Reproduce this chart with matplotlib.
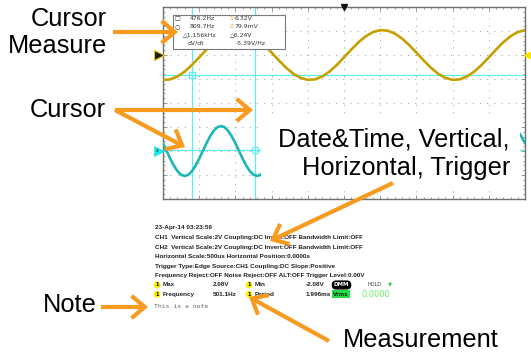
import numpy as np
import matplotlib
matplotlib.use('Agg')
import matplotlib.pyplot as plt
from matplotlib.patches import Rectangle

# ---------------- data ----------------
# time axis of the scope: 10 divisions of 500 us -> -2.5 ms .. 2.5 ms
t_ch1 = np.linspace(-2.5, 2.5, 51)           # ms, 0.1 ms steps
ch1_volts = [-2.07, -2.03, -1.79, -1.38, -0.83, -0.20, 0.45, 1.06, 1.56, 1.91, 2.07,
             2.03, 1.79, 1.38, 0.83, 0.20, -0.45, -1.06, -1.56, -1.91, -2.07,
             -2.03, -1.79, -1.38, -0.83, -0.20, 0.45, 1.06, 1.56, 1.91, 2.07,
             2.03, 1.79, 1.38, 0.83, 0.20, -0.45, -1.06, -1.56, -1.91, -2.07,
             -2.03, -1.79, -1.38, -0.83, -0.20, 0.45, 1.06, 1.56, 1.91, 2.07]
t_ch2 = np.linspace(-2.5, 2.5, 101)          # ms, 0.05 ms steps
ch2_volts = [0.64, 0.00, -0.64, -1.22, -1.68, -1.98, -2.08, -1.98, -1.68, -1.22,
             -0.64, 0.00, 0.64, 1.22, 1.68, 1.98, 2.08, 1.98, 1.68, 1.22,
             0.64, 0.00, -0.64, -1.22, -1.68, -1.98, -2.08, -1.98, -1.68, -1.22,
             -0.64, 0.00, 0.64, 1.22, 1.68, 1.98, 2.08, 1.98, 1.68, 1.22,
             0.64, 0.00, -0.64, -1.22, -1.68, -1.98, -2.08, -1.98, -1.68, -1.22,
             -0.64, 0.00, 0.64, 1.22, 1.68, 1.98, 2.08, 1.98, 1.68, 1.22,
             0.64, 0.00, -0.64, -1.22, -1.68, -1.98, -2.08, -1.98, -1.68, -1.22,
             -0.64, 0.00, 0.64, 1.22, 1.68, 1.98, 2.08, 1.98, 1.68, 1.22,
             0.64, 0.00, -0.64, -1.22, -1.68, -1.98, -2.08, -1.98, -1.68, -1.22,
             -0.64, 0.00, 0.64, 1.22, 1.68, 1.98, 2.08, 1.98, 1.68, 1.22,
             0.64]
ch1_scale, ch1_offset = 2.0, 2.0     # V/div, div
ch2_scale, ch2_offset = 2.0, -2.0
trigger_level = 0.0                   # V on CH1
cursor_t = [-2.100, -1.235]           # ms  (476.2 Hz, 809.7 Hz)
cursor_v = [6.32, 0.0799]             # V on CH2

cursor_rows = [("\u25a1", "476.2Hz", "1", "6.32V"),
               ("\u25cb", "809.7Hz", "2", "79.9mV")]
cursor_delta = ("\u25b31.156kHz", "\u25b36.24V")
cursor_slope = ("dV/dt", "-5.39V/Hz")

info_lines = ["23-Apr-14 03:23:56",
              "CH1  Vertical Scale:2V Coupling:DC Invert:OFF Bandwidth Limit:OFF",
              "CH2  Vertical Scale:2V Coupling:DC Invert:OFF Bandwidth Limit:OFF",
              "Horizontal Scale:500us Horizontal Position:0.0000s",
              "Trigger Type:Edge Source:CH1 Coupling:DC Slope:Positive",
              "Frequency Reject:OFF Noise Reject:OFF ALT:OFF Trigger Level:0.00V"]
meas_names = [["Max", "Min"], ["Frequency", "Period"]]
meas_values = [["2.08V", "-2.08V"], ["501.1Hz", "1.996ms"]]
dmm_value = "0.0000"
note_text = "This is a note"

# ---------------- figure ----------------
W, H = 531, 352
fig = plt.figure(figsize=(W / 100, H / 100), dpi=100)
fig.patch.set_facecolor('white')

ORANGE = '#F89A1E'
CYAN = '#5CEFEF'
GOLD = '#C6A000'
TEAL = '#1DB6B6'

sx0, sx1, sy0, sy1 = 163, 525, 7, 199
sc = fig.add_axes([sx0 / W, 1 - sy1 / H, (sx1 - sx0) / W, (sy1 - sy0) / H])
sc.set_xlim(-2.5, 2.5)
sc.set_ylim(-4, 4)
sc.set_xticks(np.arange(-2.5, 2.51, 0.5))
sc.set_yticks(np.arange(-4, 4.01, 1))
sc.set_xticks(np.arange(-2.5, 2.51, 0.1), minor=True)
sc.set_yticks(np.arange(-4, 4.01, 0.2), minor=True)
sc.tick_params(which='both', direction='in', labelbottom=False, labelleft=False,
               top=True, right=True, color='#8a8a8a', width=0.6)
sc.tick_params(which='major', length=3)
sc.tick_params(which='minor', length=1.6)
sc.grid(True, which='major', color='#9c9c9c', linestyle=(0, (1, 6.4)), lw=0.7)
for s in sc.spines.values():
    s.set_color('#707070')
    s.set_linewidth(1.0)

# cursors
cur_y = [ch2_offset + v / ch2_scale for v in cursor_v]
for ct in cursor_t:
    sc.axvline(ct, color=CYAN, lw=0.9, zorder=2)
for cy in cur_y:
    sc.axhline(cy, color=CYAN, lw=0.9, zorder=2)

# traces
sc.plot(t_ch1, ch1_offset + np.array(ch1_volts) / ch1_scale, color=GOLD, lw=1.9,
        solid_capstyle='round', zorder=3)
sc.plot(t_ch2, ch2_offset + np.array(ch2_volts) / ch2_scale, color=TEAL, lw=1.9,
        solid_capstyle='round', zorder=3)

sc.plot([cursor_t[0]], [cur_y[0]], marker='s', ms=5, mfc='none', mec=CYAN, mew=0.9, zorder=4)
sc.plot([cursor_t[1]], [cur_y[1]], marker='o', ms=5, mfc='none', mec=CYAN, mew=0.9, zorder=4)

# channel / trigger markers
btr = sc.get_yaxis_transform()
sc.plot([-0.012], [ch1_offset], marker='>', ms=7, mfc='#1a1a1a', mec='#E8C800', mew=0.8,
        transform=btr, clip_on=False, zorder=6)
sc.plot([-0.012], [ch2_offset], marker='>', ms=7, mfc='#22E6E6', mec='#22E6E6', mew=0.5,
        transform=btr, clip_on=False, zorder=6)
sc.text(-0.016, ch2_offset, '2', transform=btr, fontsize=3, ha='center', va='center', zorder=7)
sc.plot([1.012], [ch1_offset + trigger_level / ch1_scale], marker='<', ms=7, mfc='#F2E600',
        mec='#F2E600', transform=btr, clip_on=False, zorder=6)
sc.plot([0.0], [1.0], marker='v', ms=4.5, color='#111', transform=sc.get_xaxis_transform(),
        clip_on=False, zorder=6)

# ---------------- overlay ----------------
ov = fig.add_axes([0, 0, 1, 1], zorder=5)
ov.set_xlim(0, W)
ov.set_ylim(H, 0)
ov.axis('off')
ov.patch.set_alpha(0)

# white panel behind the big label
ov.add_patch(Rectangle((261, 117), 259, 70, fc='white', ec='none', zorder=1))

# cursor measure box
ov.add_patch(Rectangle((173, 15), 112, 34, fc='white', ec='#7a7a7a', lw=0.8, zorder=2))
small = dict(fontsize=4.4, va='center', color='#333', family='DejaVu Sans', zorder=3)
for i, (ic, f, ch, v) in enumerate(cursor_rows):
    y = 19 + 8 * i
    ov.text(177, y, ic, ha='center', **small)
    ov.text(190, y, f, **small)
    ov.text(233, y, ch, ha='right', **{**small, 'color': ORANGE})
    ov.text(234.5, y, v, **small)
ov.text(183, 35, cursor_delta[0], **small)
ov.text(230, 35, cursor_delta[1], **small)
ov.text(188, 43, cursor_slope[0], **small)
ov.text(236, 43, cursor_slope[1], **small)

# big labels
big = dict(fontsize=18.3, family='Liberation Sans', color='black', zorder=4)
ov.text(107, 26, 'Cursor', ha='right', va='baseline', **big)
ov.text(107, 53, 'Measure', ha='right', va='baseline', **big)
ov.text(106, 117, 'Cursor', ha='right', va='baseline', **big)
ov.text(510, 146, 'Date&Time, Vertical,', ha='right', va='baseline', **big)
ov.text(510, 175, 'Horizontal, Trigger', ha='right', va='baseline', **big)
ov.text(97, 312, 'Note', ha='right', va='baseline', **big)
ov.text(343, 347, 'Measurement', ha='left', va='baseline', **big)

# info block
info = dict(fontsize=4.55, family='Liberation Sans', weight='bold', color='#222', va='center', zorder=3)
for i, line in enumerate(info_lines):
    ov.text(155, 228 + 9.6 * i, line, **info)
for r in range(2):
    y = 285 + 9.3 * r
    for c, (bx, lx, vx) in enumerate([(157, 163, 213), (249, 255, 306)]):
        ov.text(bx, y, '1', ha='center', fontsize=3.6, weight='bold', va='center', zorder=3,
                bbox=dict(boxstyle='circle,pad=0.18', fc='#FFF000', ec='none'))
        ov.text(lx, y, meas_names[r][c], **info)
        ov.text(vx, y, meas_values[r][c], **info)
ov.text(341.5, 285, 'DMM', ha='center', va='center', color='white', fontsize=4, weight='bold',
        zorder=3, bbox=dict(boxstyle='round,pad=0.25,rounding_size=0.7', fc='black', ec='black'))
ov.text(341, 294, 'Vrms', ha='center', va='center', color='#113311', fontsize=3.8, weight='bold',
        zorder=3, bbox=dict(boxstyle='square,pad=0.25', fc='#22DD44', ec='none'))
ov.text(368, 284, 'HOLD', fontsize=3.5, va='center', color='#333', zorder=3)
ov.text(390, 284, '\u25bc', fontsize=3.8, va='center', ha='center', color='#22CC44', zorder=3)
ov.text(362, 294.5, dmm_value, fontsize=6, va='center', color='#66F266', zorder=3)
ov.text(154, 306, note_text, fontsize=4.6, family='DejaVu Sans Mono', va='center',
        color='#666', zorder=3)

# arrows
ap = dict(arrowstyle='->,head_length=0.95,head_width=0.8', lw=3.0, color=ORANGE,
          shrinkA=0, shrinkB=0, mutation_scale=10, joinstyle='miter', capstyle='butt')
arrows = [((113, 32), (178, 32)),
          ((115, 110), (253, 110)),
          ((115, 110), (185, 147)),
          ((393, 183), (270, 241)),
          ((101, 307), (148, 307)),
          ((329, 341), (249, 297))]
for start, tip in arrows:
    ov.annotate('', xy=tip, xytext=start, arrowprops=ap, zorder=10)

fig.savefig('out.png', dpi=100, facecolor='white')
